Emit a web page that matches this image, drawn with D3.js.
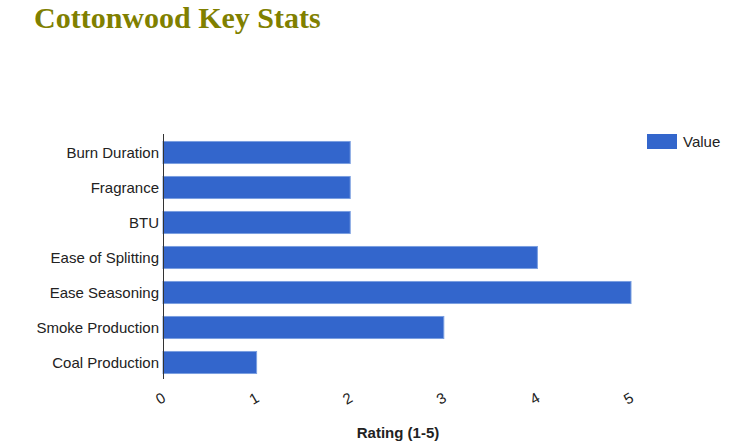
<!DOCTYPE html>
<html><head><meta charset="utf-8">
<script src="https://cdn.jsdelivr.net/npm/d3@7"></script>
<style>body{margin:0;background:#fff;}</style>
</head><body>
<svg id="c" width="734" height="447"></svg>
<script>
const categories = ["Burn Duration","Fragrance","BTU","Ease of Splitting","Ease Seasoning","Smoke Production","Coal Production"];
const values = [2,2,2,4,5,3,1];
const tickValues = [0,1,2,3,4,5];
const seriesName = "Value";

const svg = d3.select("#c");
svg.append("text").attr("x",34).attr("y",28)
  .attr("font-family","'Liberation Serif','Times New Roman',serif")
  .attr("font-weight","bold").attr("font-size",30).attr("fill","#808000")
  .text("Cottonwood Key Stats");

const x = d3.scaleLinear().domain([0,5]).range([163,631]);
const y = d3.scaleBand().domain(categories).range([135,380]).paddingInner(0.37).paddingOuter(0.185);

svg.selectAll("rect.bar").data(values).enter().append("rect")
  .attr("class","bar")
  .attr("x",x(0)).attr("y",(d,i)=>y(categories[i]))
  .attr("width",d=>x(d)-x(0)).attr("height",y.bandwidth())
  .attr("fill","#3366cc").attr("stroke","#7a9fe0").attr("stroke-width",1);

svg.append("line").attr("x1",163.5).attr("x2",163.5).attr("y1",134).attr("y2",379)
  .attr("stroke","#333").attr("stroke-width",1);

const font = "Arial,'Liberation Sans',sans-serif";
svg.selectAll("text.cat").data(categories).enter().append("text")
  .attr("class","cat").attr("x",159).attr("y",d=>y(d)+y.bandwidth()/2+5)
  .attr("text-anchor","end").attr("font-family",font)
  .attr("font-size",15).attr("fill","#222").text(d=>d);

svg.selectAll("text.tick").data(tickValues).enter().append("text")
  .attr("class","tick")
  .attr("transform",d=>`translate(${x(d)},403) rotate(-30)`)
  .attr("text-anchor","middle").attr("font-family",font)
  .attr("font-size",15).attr("fill","#222").text(d=>d);

svg.append("text").attr("x",398).attr("y",438).attr("text-anchor","middle")
  .attr("font-family",font).attr("font-weight","bold")
  .attr("font-size",15).attr("fill","#222").text("Rating (1-5)");

svg.append("rect").attr("x",647).attr("y",134).attr("width",30).attr("height",15).attr("fill","#3366cc");
svg.append("text").attr("x",683).attr("y",147).attr("font-family",font)
  .attr("font-size",15).attr("fill","#222").text(seriesName);
</script>
</body></html>
